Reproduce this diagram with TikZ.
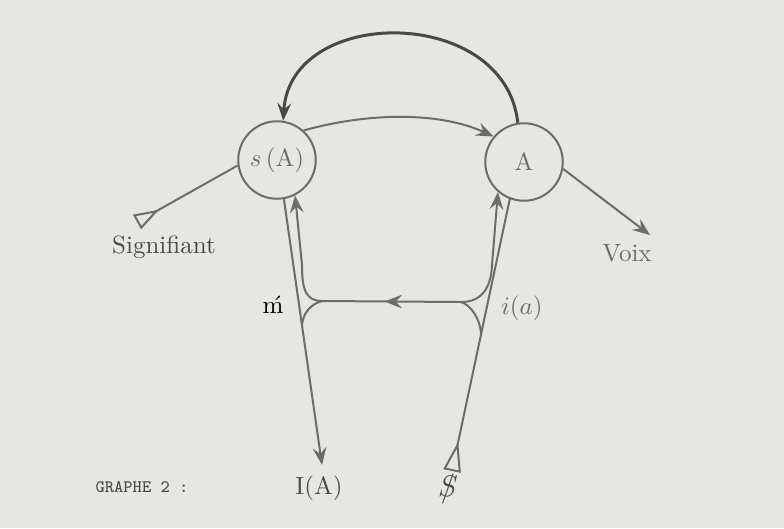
\documentclass[tikz,border=0pt]{standalone}
\usetikzlibrary{arrows.meta,decorations.markings}
\definecolor{paper}{RGB}{230,231,226}
\definecolor{ink}{RGB}{108,108,108}
\definecolor{darkink}{RGB}{72,72,72}
\begin{document}
\begin{tikzpicture}[x=0.4pt,y=-0.4pt,
	ln/.style={ink,line width=0.8pt},
	arr/.style={ln,-{Stealth[length=7pt,width=5.5pt,inset=2.5pt]}},
	tail/.style={ln,{Triangle[open,reversed,length=10pt,width=6.5pt]}-},
	midarr/.style={ln,postaction={decorate},
		decoration={markings,mark=at position 0.55 with {\arrow{Stealth[length=7pt,width=5.5pt,inset=2.5pt]}}}},
	spot/.style={circle,draw=ink,line width=0.8pt,minimum size=31pt,inner sep=0pt,text=ink}]
	\fill[paper] (0,0) rectangle (784,528);
	\node[spot] (sA) at (277,160) {$s$\,(A)};
	\node[spot] (A) at (524,162) {A};
	\coordinate (sig) at (137,222);
	\coordinate (voix) at (650,235);
	\coordinate (m) at (322,301);
	\coordinate (ia) at (461,302);
	\coordinate (mj) at (302,325);
	\coordinate (sj) at (481,333);
	\coordinate (IA) at (322,465);
	\coordinate (S) at (452,471);
	\draw[tail] (sig) -- (sA.188);
	\draw[arr] (sA.48) .. controls (370,112) and (440,112) .. (A.140);
	\draw[arr] (A.-10) -- (voix);
	\draw[arr,line width=1.2pt,darkink] (A.99) .. controls (505,5) and (290,5) .. (sA.81);
	\draw[arr] (sA.280) -- (IA);
	\draw[tail,{Triangle[open,reversed,length=12pt,width=7pt]}-] (S) -- (A.249);
	\draw[arr] (m) .. controls (306,301) and (302,290) .. (302,265) -- (sA.297);
	\draw[arr] (ia) .. controls (480,302) and (491,290) .. (492,265) -- (A.229);
	\draw[midarr] (ia) -- (m);
	\draw[ln] (m) .. controls (311,304) and (303,313) .. (mj);
	\draw[ln] (ia) .. controls (471,305) and (480,319) .. (sj);
	\node[text=darkink] (signifiant) at (164,247) {Signifiant};
	\node[text=ink] (voixlbl) at (627,253) {Voix};
	\node (mlbl) at (273,305) {\'m};
	\node[text=ink] (ialbl) at (522,308) {$i(a)$};
	\node[text=darkink] (IAlbl) at (319,488) {I(A)};
	\node[text=darkink] (Slbl) at (448,490) {\large\ooalign{$S$\cr\hidewidth$/$\hidewidth\cr}};
	\node[text=darkink] (graphe) at (142,487) {\scriptsize\ttfamily GRAPHE 2 :};
\end{tikzpicture}
\end{document}
